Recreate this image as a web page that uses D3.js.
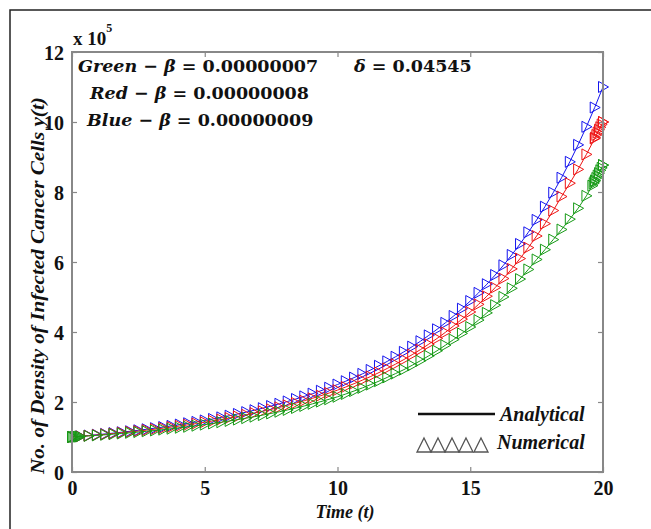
<!DOCTYPE html>
<html><head><meta charset="utf-8">
<script src="https://cdn.jsdelivr.net/npm/d3@7"></script>
<style>body{margin:0;background:#fff}svg{display:block}</style>
</head><body>
<svg id="c" width="651" height="529"></svg>
<script>
const timeValues = [0,0.3125,0.625,0.9375,1.25,1.5625,1.875,2.1875,2.5,2.8125,3.125,3.4375,3.75,4.0625,4.375,4.6875,5,5.3125,5.625,5.9375,6.25,6.5625,6.875,7.1875,7.5,7.8125,8.125,8.4375,8.75,9.0625,9.375,9.6875,10,10.3125,10.625,10.9375,11.25,11.5625,11.875,12.1875,12.5,12.8125,13.125,13.4375,13.75,14.0625,14.375,14.6875,15,15.3125,15.625,15.9375,16.25,16.5625,16.875,17.1875,17.5,17.8125,18.125,18.4375,18.75,19.0625,19.375,19.6875,20];
const blueValues = [1.000,1.020,1.042,1.064,1.087,1.112,1.137,1.164,1.192,1.222,1.253,1.285,1.319,1.355,1.393,1.432,1.473,1.516,1.561,1.609,1.659,1.711,1.766,1.824,1.885,1.949,2.016,2.087,2.161,2.239,2.321,2.408,2.499,2.595,2.697,2.804,2.916,3.035,3.161,3.293,3.433,3.581,3.737,3.903,4.077,4.262,4.458,4.666,4.885,5.118,5.365,5.628,5.906,6.201,6.515,6.848,7.203,7.580,7.981,8.408,8.862,9.347,9.863,10.414,11.001];
const redValues = [1.000,1.018,1.037,1.056,1.077,1.099,1.121,1.145,1.170,1.197,1.224,1.253,1.284,1.315,1.349,1.384,1.421,1.460,1.500,1.543,1.587,1.634,1.684,1.736,1.790,1.847,1.907,1.971,2.037,2.107,2.181,2.258,2.339,2.429,2.524,2.625,2.729,2.841,2.959,3.082,3.213,3.352,3.498,3.653,3.816,3.989,4.173,4.367,4.572,4.790,5.022,5.268,5.528,5.804,6.098,6.410,6.742,7.095,7.470,7.870,8.251,8.646,9.074,9.529,10.000];
const greenValues = [1.000,1.014,1.030,1.046,1.063,1.081,1.100,1.120,1.141,1.163,1.186,1.211,1.237,1.264,1.292,1.323,1.354,1.387,1.422,1.459,1.498,1.538,1.581,1.626,1.673,1.722,1.774,1.829,1.887,1.948,2.012,2.079,2.149,2.229,2.314,2.403,2.498,2.596,2.703,2.812,2.925,3.049,3.180,3.319,3.465,3.621,3.785,3.959,4.142,4.340,4.547,4.767,5.002,5.249,5.512,5.787,6.072,6.352,6.640,6.928,7.223,7.534,7.890,8.300,8.768];
// dense solver steps (numerical) near the ends
const redEndTimes = [19.70,19.75,19.80,19.85,19.90,19.95,20.00];
const redEndValues = [9.55,9.63,9.70,9.78,9.85,9.93,10.00];
const greenEndTimes = [19.60,19.65,19.70,19.75,19.80,19.85,19.90,19.95,20.00];
const greenEndValues = [8.18,8.25,8.33,8.40,8.47,8.54,8.62,8.69,8.77];
const greenStartTimes = [0,0.05,0.10,0.15,0.20,0.25];
const greenStartValues = [1.000,1.002,1.004,1.007,1.009,1.011];
const xTicks = [0,5,10,15,20];
const yTicks = [0,2,4,6,8,10,12];

const svg = d3.select('#c');
const L = 72, R = 603, T = 52, B = 472;
const x = d3.scaleLinear().domain([0,20]).range([L,R]);
const y = d3.scaleLinear().domain([0,12]).range([B,T]);

// outer frame
svg.append('rect').attr('x',10).attr('y',10).attr('width',660).attr('height',540)
  .attr('fill','none').attr('stroke','#222').attr('stroke-width',1.5);

const tickFont = 'Liberation Serif, Times New Roman, serif';

// axes (inward ticks, box)
const gx = svg.append('g').attr('transform',`translate(0,${B})`)
  .call(d3.axisBottom(x).tickValues(xTicks).tickSize(-5).tickPadding(9).tickFormat(d3.format('d')));
const gxt = svg.append('g').attr('transform',`translate(0,${T})`)
  .call(d3.axisTop(x).tickValues(xTicks).tickSize(-5).tickFormat(''));
const gy = svg.append('g').attr('transform',`translate(${L},0)`)
  .call(d3.axisLeft(y).tickValues(yTicks).tickSize(-5).tickPadding(8).tickFormat(d3.format('d')));
const gyr = svg.append('g').attr('transform',`translate(${R},0)`)
  .call(d3.axisRight(y).tickValues(yTicks).tickSize(-5).tickFormat(''));
[gx,gxt,gy,gyr].forEach(g=>{
  g.select('.domain').remove();
  g.selectAll('.tick line').attr('stroke','#888').attr('stroke-width',1.2);
  g.selectAll('text').attr('font-family',tickFont).attr('font-weight','bold')
    .attr('font-size','20px').attr('fill','#111');
});
gy.selectAll('text').attr('dy','0.35em');
gx.selectAll('text').attr('dy','0.7em');

// plot data
const series = [
  {v: blueValues, c: '#1515ee'},
  {v: redValues, c: '#ee1515'},
  {v: greenValues, c: '#169a16'}
];
const line = d3.line().x((d,i)=>x(timeValues[i])).y(d=>y(d));
const tri = 'M-4.5,-5.5L5.5,0L-4.5,5.5Z';
const plot = svg.append('g');
function drawMarkers(times, vals, col){
  plot.append('g').selectAll('path').data(vals).join('path')
    .attr('d',tri)
    .attr('transform',(d,i)=>`translate(${x(times[i])},${y(d)})`)
    .attr('fill','none').attr('stroke',col).attr('stroke-width',1);
}
series.forEach(s=>{
  plot.append('path').datum(s.v).attr('d',line).attr('fill','none')
    .attr('stroke',s.c).attr('stroke-width',1);
  drawMarkers(timeValues, s.v, s.c);
});
drawMarkers(redEndTimes, redEndValues, '#ee1515');
drawMarkers(greenEndTimes, greenEndValues, '#169a16');
drawMarkers(greenStartTimes, greenStartValues, '#169a16');

// axes box
svg.append('rect').attr('x',L).attr('y',T).attr('width',R-L).attr('height',B-T)
  .attr('fill','none').attr('stroke','#888').attr('stroke-width',2);

// exponent label
const ex = svg.append('text').attr('x',73).attr('y',45).attr('font-family',tickFont)
  .attr('font-weight','bold').attr('font-size','19px').attr('fill','#111');
ex.append('tspan').text('x 10');
ex.append('tspan').attr('dy',-13).attr('font-size','12px').text('5');

// axis titles
const yl = svg.append('text')
  .attr('text-anchor','start').attr('font-family',tickFont).attr('font-weight','bold')
  .attr('font-style','italic').attr('font-size','18px').attr('fill','#111')
  .text('No. of Density of Infected Cancer Cells y(t)');
const ylLen = yl.node().getComputedTextLength();
yl.attr('transform',`translate(44,474) rotate(-90) scale(${377/ylLen},1)`);
svg.append('text').attr('x',345).attr('y',518).attr('text-anchor','middle')
  .attr('font-family',tickFont).attr('font-weight','bold').attr('font-style','italic')
  .attr('font-size','18px').attr('fill','#111').text('Time (t)');

// annotations
const annFont = 'DejaVu Serif, serif';
function ann(xp, yp, parts){
  const t = svg.append('text').attr('x',xp).attr('y',yp).attr('font-family',annFont)
    .attr('font-weight','bold').attr('font-size','17.5px').attr('fill','#111');
  parts.forEach(p=>t.append('tspan').attr('font-style',p[1]?'italic':'normal').text(p[0]));
}
ann(78,72,[['Green',1],[' \u2212 ',0],['\u03B2',1],[' = 0.00000007',0]]);
ann(354,72,[['\u03B4',1],[' = 0.04545',0]]);
ann(90,99,[['Red',1],[' \u2212 ',0],['\u03B2',1],[' = 0.00000008',0]]);
ann(87,126,[['Blue',1],[' \u2212 ',0],['\u03B2',1],[' = 0.00000009',0]]);

// legend
const lg = svg.append('g');
lg.append('line').attr('x1',418).attr('x2',495).attr('y1',414).attr('y2',414)
  .attr('stroke','#111').attr('stroke-width',2.5);
lg.append('text').attr('x',500).attr('y',421).attr('font-family',tickFont)
  .attr('font-weight','bold').attr('font-style','italic').attr('font-size','20px')
  .attr('fill','#111').text('Analytical');
const legendTris = [424,438,452,466,481];
lg.selectAll('path.lt').data(legendTris).join('path').attr('class','lt')
  .attr('d','M0,-7L7,7L-7,7Z').attr('transform',d=>`translate(${d},445)`)
  .attr('fill','none').attr('stroke','#555').attr('stroke-width',1.3);
lg.append('text').attr('x',497).attr('y',449).attr('font-family',tickFont)
  .attr('font-weight','bold').attr('font-style','italic').attr('font-size','20px')
  .attr('fill','#111').text('Numerical');
</script>
</body></html>
